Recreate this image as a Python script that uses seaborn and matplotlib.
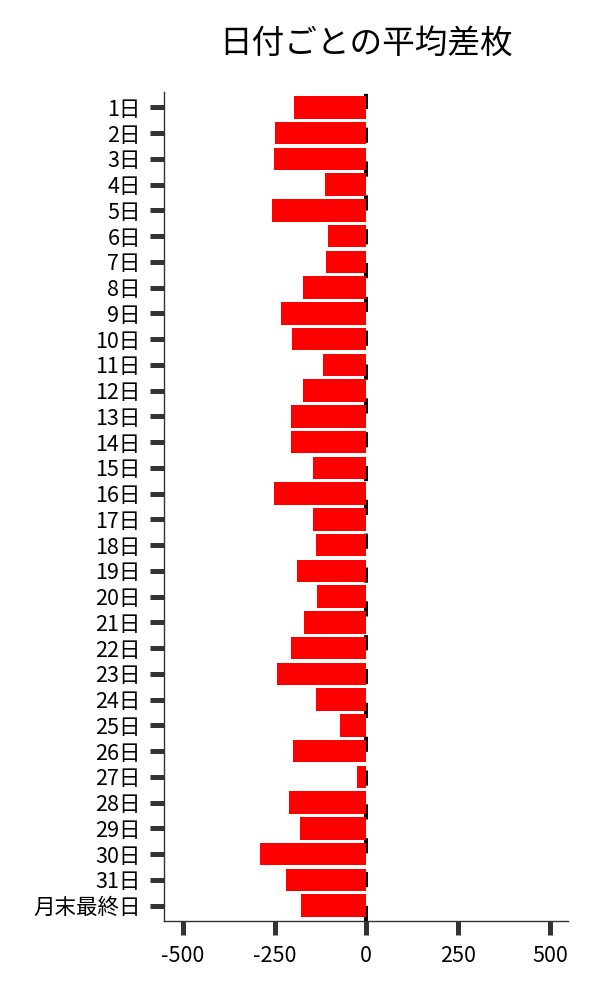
import pandas as pd
import matplotlib
matplotlib.use("Agg")
import matplotlib.pyplot as plt
import seaborn as sns

# 日付ラベルと平均差枚
days = [f"{d}日" for d in range(1, 32)] + ["月末最終日"]
avg_diff = [-198, -249, -252, -113, -257, -105, -110, -173, -233, -203,
            -119, -173, -206, -206, -146, -252, -146, -137, -189, -135,
            -170, -206, -244, -137, -73, -200, -24, -211, -181, -290,
            -219, -179]
x_ticks = [-500, -250, 0, 250, 500]

df = pd.DataFrame({"day": days, "diff": avg_diff})

sns.set_style("white")
plt.rcParams["font.family"] = ["Noto Sans CJK JP", "DejaVu Sans"]

fig = plt.figure(figsize=(6, 10), dpi=100)
ax = fig.add_axes([0.274, 0.079, 0.673, 0.829])

# 0 の位置に破線
ax.axvline(0, color="black", lw=2.8, linestyle=(0, (3.9, 4.8)), zorder=0.9)

sns.barplot(x="diff", y="day", data=df, color="red", saturation=1,
            width=0.87, order=days, ax=ax, zorder=2, linewidth=0)

ax.set_xlim(-550, 550)
ax.set_ylim(31.6, -0.6)
ax.set_xticks(x_ticks)
ax.set_xticklabels([str(v) for v in x_ticks])
ax.set_xlabel("")
ax.set_ylabel("")
ax.set_title("日付ごとの平均差枚", fontsize=23.5, pad=28, color="black")

ax.tick_params(axis="both", which="major", direction="out", length=10, width=3.6,
               color="#333333", labelsize=15.5, pad=7, labelcolor="black")
ax.tick_params(axis="x", bottom=True)
ax.tick_params(axis="y", left=True)

sns.despine(ax=ax)
for s in ["left", "bottom"]:
    ax.spines[s].set_color("#333333")
    ax.spines[s].set_linewidth(1)

plt.savefig("out.png", dpi=100)
